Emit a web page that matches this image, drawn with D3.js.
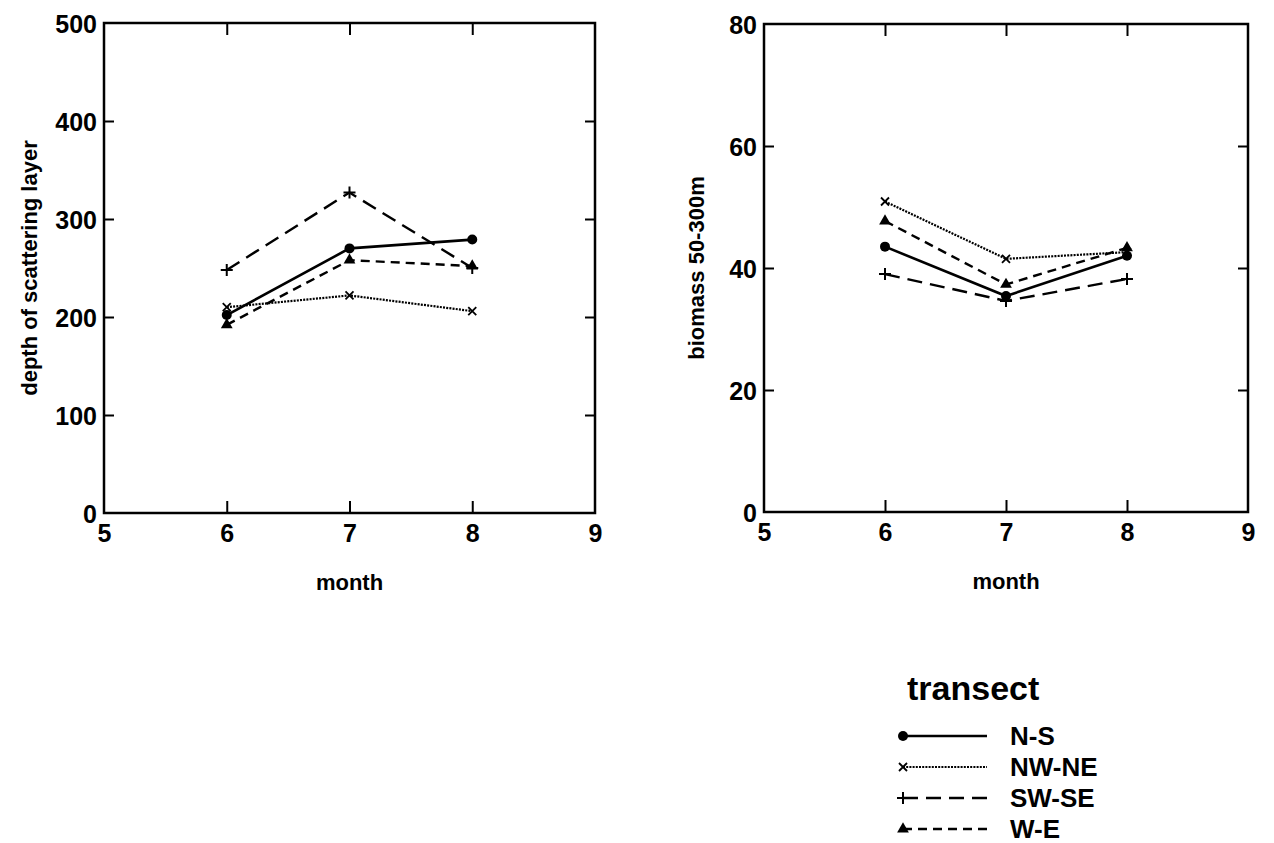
<!DOCTYPE html>
<html>
<head>
<meta charset="utf-8">
<script src="https://cdn.jsdelivr.net/npm/d3@7"></script>
<style>
  html, body { margin: 0; padding: 0; background: #fff; }
  svg { display: block; font-family: "Liberation Sans", Arial, sans-serif; }
</style>
</head>
<body>
<svg id="chart" width="1274" height="843"></svg>
<script>
// ---- data ----
const months = [6, 7, 8];
const transects = ["N-S", "NW-NE", "SW-SE", "W-E"];
const depthNS   = [202, 270, 279];
const depthNWNE = [210, 222, 206];
const depthSWSE = [248, 327, 250];
const depthWE   = [192, 258, 252];
const biomassNS   = [43.5, 35.4, 42.0];
const biomassNWNE = [50.9, 41.5, 42.6];
const biomassSWSE = [39.0, 34.6, 38.2];
const biomassWE   = [47.7, 37.3, 43.3];
const xTicks = [5, 6, 7, 8, 9];
const depthTicks = [0, 100, 200, 300, 400, 500];
const biomassTicks = [0, 20, 40, 60, 80];

// ---- styles ----
const styles = {
  "N-S":   { dash: null,     width: 2.6, marker: "circle" },
  "NW-NE": { dash: "2,1.2",  width: 2.2, marker: "x" },
  "SW-SE": { dash: "15,8",   width: 2.4, marker: "plus" },
  "W-E":   { dash: "9,6",    width: 2.4, marker: "triangle" }
};

const svg = d3.select("#chart");

function drawMarker(g, type, cx, cy) {
  if (type === "circle") {
    g.append("circle").attr("cx", cx).attr("cy", cy).attr("r", 5).attr("fill", "#000");
  } else if (type === "triangle") {
    g.append("path").attr("d", d3.symbol(d3.symbolTriangle, 60)())
      .attr("transform", `translate(${cx},${cy})`).attr("fill", "#000");
  } else if (type === "plus") {
    g.append("path").attr("d", `M${cx-6},${cy}H${cx+6}M${cx},${cy-6}V${cy+6}`)
      .attr("stroke", "#000").attr("stroke-width", 2);
  } else if (type === "x") {
    g.append("path").attr("d", `M${cx-4},${cy-4}L${cx+4},${cy+4}M${cx-4},${cy+4}L${cx+4},${cy-4}`)
      .attr("stroke", "#000").attr("stroke-width", 1.8);
  }
}

function panel(box, yDomain, yTicks, seriesList, yTitle, titleX) {
  const x = d3.scaleLinear().domain([5, 9]).range([box.left, box.right]);
  const y = d3.scaleLinear().domain(yDomain).range([box.bottom, box.top]);
  const g = svg.append("g");

  const la = g.append("g").attr("transform", `translate(${box.left},0)`)
    .call(d3.axisLeft(y).tickValues(yTicks).tickSize(-10).tickPadding(7).tickFormat(d3.format("d")));
  const ba = g.append("g").attr("transform", `translate(0,${box.bottom})`)
    .call(d3.axisBottom(x).tickValues(xTicks).tickSize(-12).tickPadding(11).tickFormat(d3.format("d")));
  const ra = g.append("g").attr("transform", `translate(${box.right},0)`)
    .call(d3.axisRight(y).tickValues(yTicks.slice(1, -1)).tickSize(-10).tickFormat(""));
  const ta = g.append("g").attr("transform", `translate(0,${box.top})`)
    .call(d3.axisTop(x).tickValues(xTicks.slice(1, -1)).tickSize(-12).tickFormat(""));

  [la, ba, ra, ta].forEach(a => {
    a.select(".domain").remove();
    a.selectAll(".tick line").attr("stroke", "#000").attr("stroke-width", 2);
    a.selectAll(".tick text").attr("fill", "#000").style("font-size", "25px").style("font-weight", "bold");
  });
  la.selectAll(".tick line").filter(d => d === yDomain[0] || d === yDomain[1]).remove();
  ba.selectAll(".tick line").filter(d => d === 5 || d === 9).remove();
  la.selectAll(".tick text").attr("dy", "0.36em");
  ba.selectAll(".tick text").attr("dy", "0.72em");

  g.append("rect").attr("x", box.left).attr("y", box.top)
    .attr("width", box.right - box.left).attr("height", box.bottom - box.top)
    .attr("fill", "none").attr("stroke", "#000").attr("stroke-width", 2.5);

  const line = d3.line().x((d, i) => x(months[i])).y(d => y(d));
  seriesList.forEach(s => {
    const st = styles[s.name];
    g.append("path").datum(s.values).attr("d", line)
      .attr("fill", "none").attr("stroke", "#000").attr("stroke-width", st.width)
      .attr("stroke-dasharray", st.dash);
    s.values.forEach((v, i) => drawMarker(g, st.marker, x(months[i]), y(v)));
  });

  g.append("text").attr("x", (box.left + box.right) / 2).attr("y", box.bottom + 77)
    .attr("text-anchor", "middle").style("font-size", "22px").style("font-weight", "bold")
    .text("month");
  g.append("text").attr("transform", `translate(${titleX},${(box.top + box.bottom) / 2}) rotate(-90)`)
    .attr("text-anchor", "middle").style("font-size", "22px").style("font-weight", "bold")
    .text(yTitle);
}

panel({ left: 104, right: 595, top: 23, bottom: 513 }, [0, 500], depthTicks, [
  { name: "N-S", values: depthNS },
  { name: "NW-NE", values: depthNWNE },
  { name: "SW-SE", values: depthSWSE },
  { name: "W-E", values: depthWE }
], "depth of scattering layer", 37);

panel({ left: 764, right: 1248, top: 24, bottom: 512 }, [0, 80], biomassTicks, [
  { name: "N-S", values: biomassNS },
  { name: "NW-NE", values: biomassNWNE },
  { name: "SW-SE", values: biomassSWSE },
  { name: "W-E", values: biomassWE }
], "biomass 50-300m", 704);

// legend
const lg = svg.append("g");
lg.append("text").attr("x", 907).attr("y", 700).style("font-size", "34px").style("font-weight", "bold")
  .text("transect");
transects.forEach((name, i) => {
  const yy = 736 + i * 31;
  const st = styles[name];
  lg.append("line").attr("x1", 903).attr("x2", 987).attr("y1", yy).attr("y2", yy)
    .attr("stroke", "#000").attr("stroke-width", st.width).attr("stroke-dasharray", st.dash);
  drawMarker(lg, st.marker, 903, yy);
  lg.append("text").attr("x", 1010).attr("y", yy + 9).style("font-size", "26px").style("font-weight", "bold")
    .text(name);
});
</script>
</body>
</html>
